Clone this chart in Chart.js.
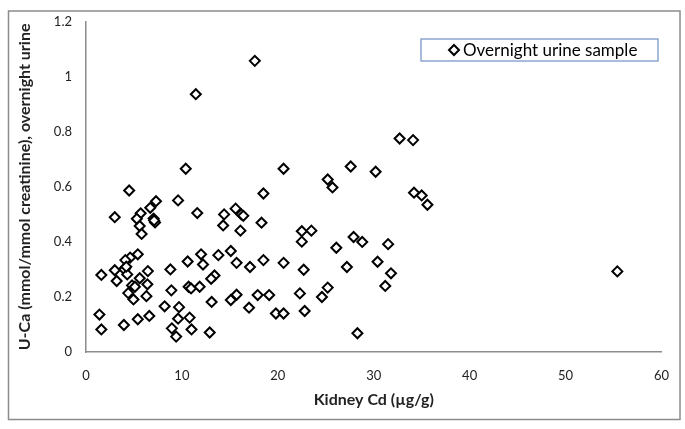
<!DOCTYPE html>
<html>
<head>
<meta charset="utf-8">
<script src="https://cdn.jsdelivr.net/npm/chart.js@4.4.1/dist/chart.umd.min.js"></script>
<style>
  html, body { margin: 0; padding: 0; background: #fff; }
  #wrap { width: 685px; height: 429px; position: relative; }
</style>
</head>
<body>
<div id="wrap"><canvas id="chart" width="685" height="429"></canvas></div>
<script>
// Kidney Cd (µg/g) for each subject
const kidneyCd = [
  17.6, 11.45, 32.7, 34.1, 10.4, 20.6, 27.6, 30.2, 25.2, 25.7,
  4.5, 18.5, 34.2, 35.0, 35.6, 7.3, 9.6, 6.7, 15.6, 3.0,
  5.7, 5.3, 7.05, 7.2, 5.6, 5.8, 11.6, 14.4, 16.2, 16.4,
  14.3, 18.3, 16.1, 22.5, 23.5, 22.5, 27.9, 28.8, 31.5, 26.1,
  15.1, 13.8, 12.0, 5.4, 4.6, 4.1, 4.1, 4.0, 3.0, 4.3,
  1.6, 3.2, 6.45, 5.6, 6.4, 4.8, 5.1, 4.4, 6.3, 4.95,
  8.8, 10.6, 12.2, 10.7, 10.95, 11.85, 8.9, 13.4, 13.05, 15.7,
  17.1, 18.5, 20.6, 22.7, 27.2, 30.4, 31.8, 31.2, 25.2, 24.6,
  22.3, 19.1, 17.9, 15.7, 15.1, 13.1, 8.2, 9.7, 17.0, 19.8,
  20.6, 22.8, 1.4, 1.6, 3.95, 5.4, 6.6, 9.6, 10.8, 8.95,
  11.0, 9.4, 12.9, 28.3, 55.4, 7.1, 4.2
];

// U-Ca (mmol/mmol creatinine), overnight urine
const urineCa = [
  1.058, 0.937, 0.776, 0.770, 0.666, 0.666, 0.674, 0.655, 0.627, 0.598,
  0.587, 0.576, 0.579, 0.569, 0.535, 0.548, 0.551, 0.524, 0.521, 0.490,
  0.504, 0.484, 0.485, 0.471, 0.458, 0.429, 0.505, 0.500, 0.500, 0.495,
  0.460, 0.470, 0.441, 0.439, 0.441, 0.401, 0.418, 0.400, 0.392, 0.379,
  0.367, 0.352, 0.355, 0.355, 0.343, 0.334, 0.306, 0.300, 0.297, 0.282,
  0.280, 0.258, 0.294, 0.268, 0.246, 0.242, 0.237, 0.214, 0.203, 0.191,
  0.300, 0.329, 0.318, 0.237, 0.231, 0.237, 0.224, 0.278, 0.266, 0.324,
  0.309, 0.334, 0.324, 0.299, 0.309, 0.328, 0.286, 0.240, 0.234, 0.200,
  0.213, 0.207, 0.207, 0.208, 0.189, 0.182, 0.166, 0.163, 0.161, 0.140,
  0.140, 0.149, 0.136, 0.082, 0.098, 0.119, 0.131, 0.121, 0.125, 0.086,
  0.082, 0.056, 0.071, 0.068, 0.293, 0.478, 0.310
];

const seriesLabel = 'Overnight urine sample';
const xTitle = 'Kidney Cd (\u00b5g/g)';
const yTitle = 'U-Ca (mmol/mmol creatinine), overnight urine';

const points = kidneyCd.map((x, i) => ({ x: x, y: urineCa[i] }));

// outer frame + boxed legend like the original
const framePlugin = {
  id: 'frame',
  beforeDraw(chart) {
    const c = chart.ctx;
    c.save();
    c.fillStyle = '#fff';
    c.fillRect(0, 0, chart.width, chart.height);
    c.strokeStyle = '#8c8c8c';
    c.lineWidth = 1.5;
    c.strokeRect(8.5, 11, 671.5, 408.5);
    c.restore();
  },
  afterDraw(chart) {
    const c = chart.ctx;
    c.save();
    c.fillStyle = '#fff';
    c.fillRect(421, 39, 237, 22);
    c.strokeStyle = '#6f8fc4';
    c.lineWidth = 1.2;
    c.strokeRect(421, 39, 237, 22);
    // marker
    c.beginPath();
    c.moveTo(454, 45);
    c.lineTo(459, 50);
    c.lineTo(454, 55);
    c.lineTo(449, 50);
    c.closePath();
    c.fillStyle = '#fff';
    c.fill();
    c.strokeStyle = '#000';
    c.lineWidth = 2;
    c.stroke();
    c.fillStyle = '#000';
    c.font = '17px Lato';
    c.textBaseline = 'middle';
    c.textAlign = 'left';
    c.fillText(chart.data.datasets[0].label, 463, 50.5);
    c.restore();
  }
};

const ctx = document.getElementById('chart').getContext('2d');
const chart = new Chart(ctx, {
  type: 'scatter',
  data: {
    datasets: [{
      label: seriesLabel,
      data: points,
      pointStyle: 'rectRot',
      pointRadius: 5,
      pointBorderWidth: 2,
      pointBorderColor: '#000',
      pointBackgroundColor: '#fff',
      showLine: false
    }]
  },
  options: {
    responsive: false,
    animation: false,
    layout: { padding: { left: 0, top: 21, right: 22.5, bottom: 0 } },
    plugins: {
      legend: { display: false },
      tooltip: { enabled: false }
    },
    scales: {
      x: {
        type: 'linear',
        min: 0,
        max: 60,
        ticks: { stepSize: 10, color: '#222', font: { family: 'Lato', size: 13 }, padding: 16 },
        grid: { display: false, drawTicks: false },
        border: { display: true, color: '#8c8c8c', width: 1.5 },
        title: {
          display: true,
          text: xTitle,
          color: '#222',
          font: { family: 'Lato', size: 16, weight: 'bold' },
          padding: { top: 0, bottom: 20 }
        },
        afterFit(scale) { scale.height = 77; }
      },
      y: {
        type: 'linear',
        min: 0,
        max: 1.2,
        ticks: {
          stepSize: 0.2,
          color: '#222',
          font: { family: 'Lato', size: 13 },
          padding: 14,
          callback: v => String(+v.toFixed(1))
        },
        grid: { display: false, drawTicks: false },
        border: { display: true, color: '#8c8c8c', width: 1.5 },
        title: {
          display: true,
          text: yTitle,
          color: '#222',
          font: { family: 'Lato', size: 16, weight: 'bold' },
          padding: { top: 15, bottom: 0 }
        },
        afterFit(scale) { scale.width = 86; }
      }
    }
  },
  plugins: [framePlugin]
});
</script>
</body>
</html>
